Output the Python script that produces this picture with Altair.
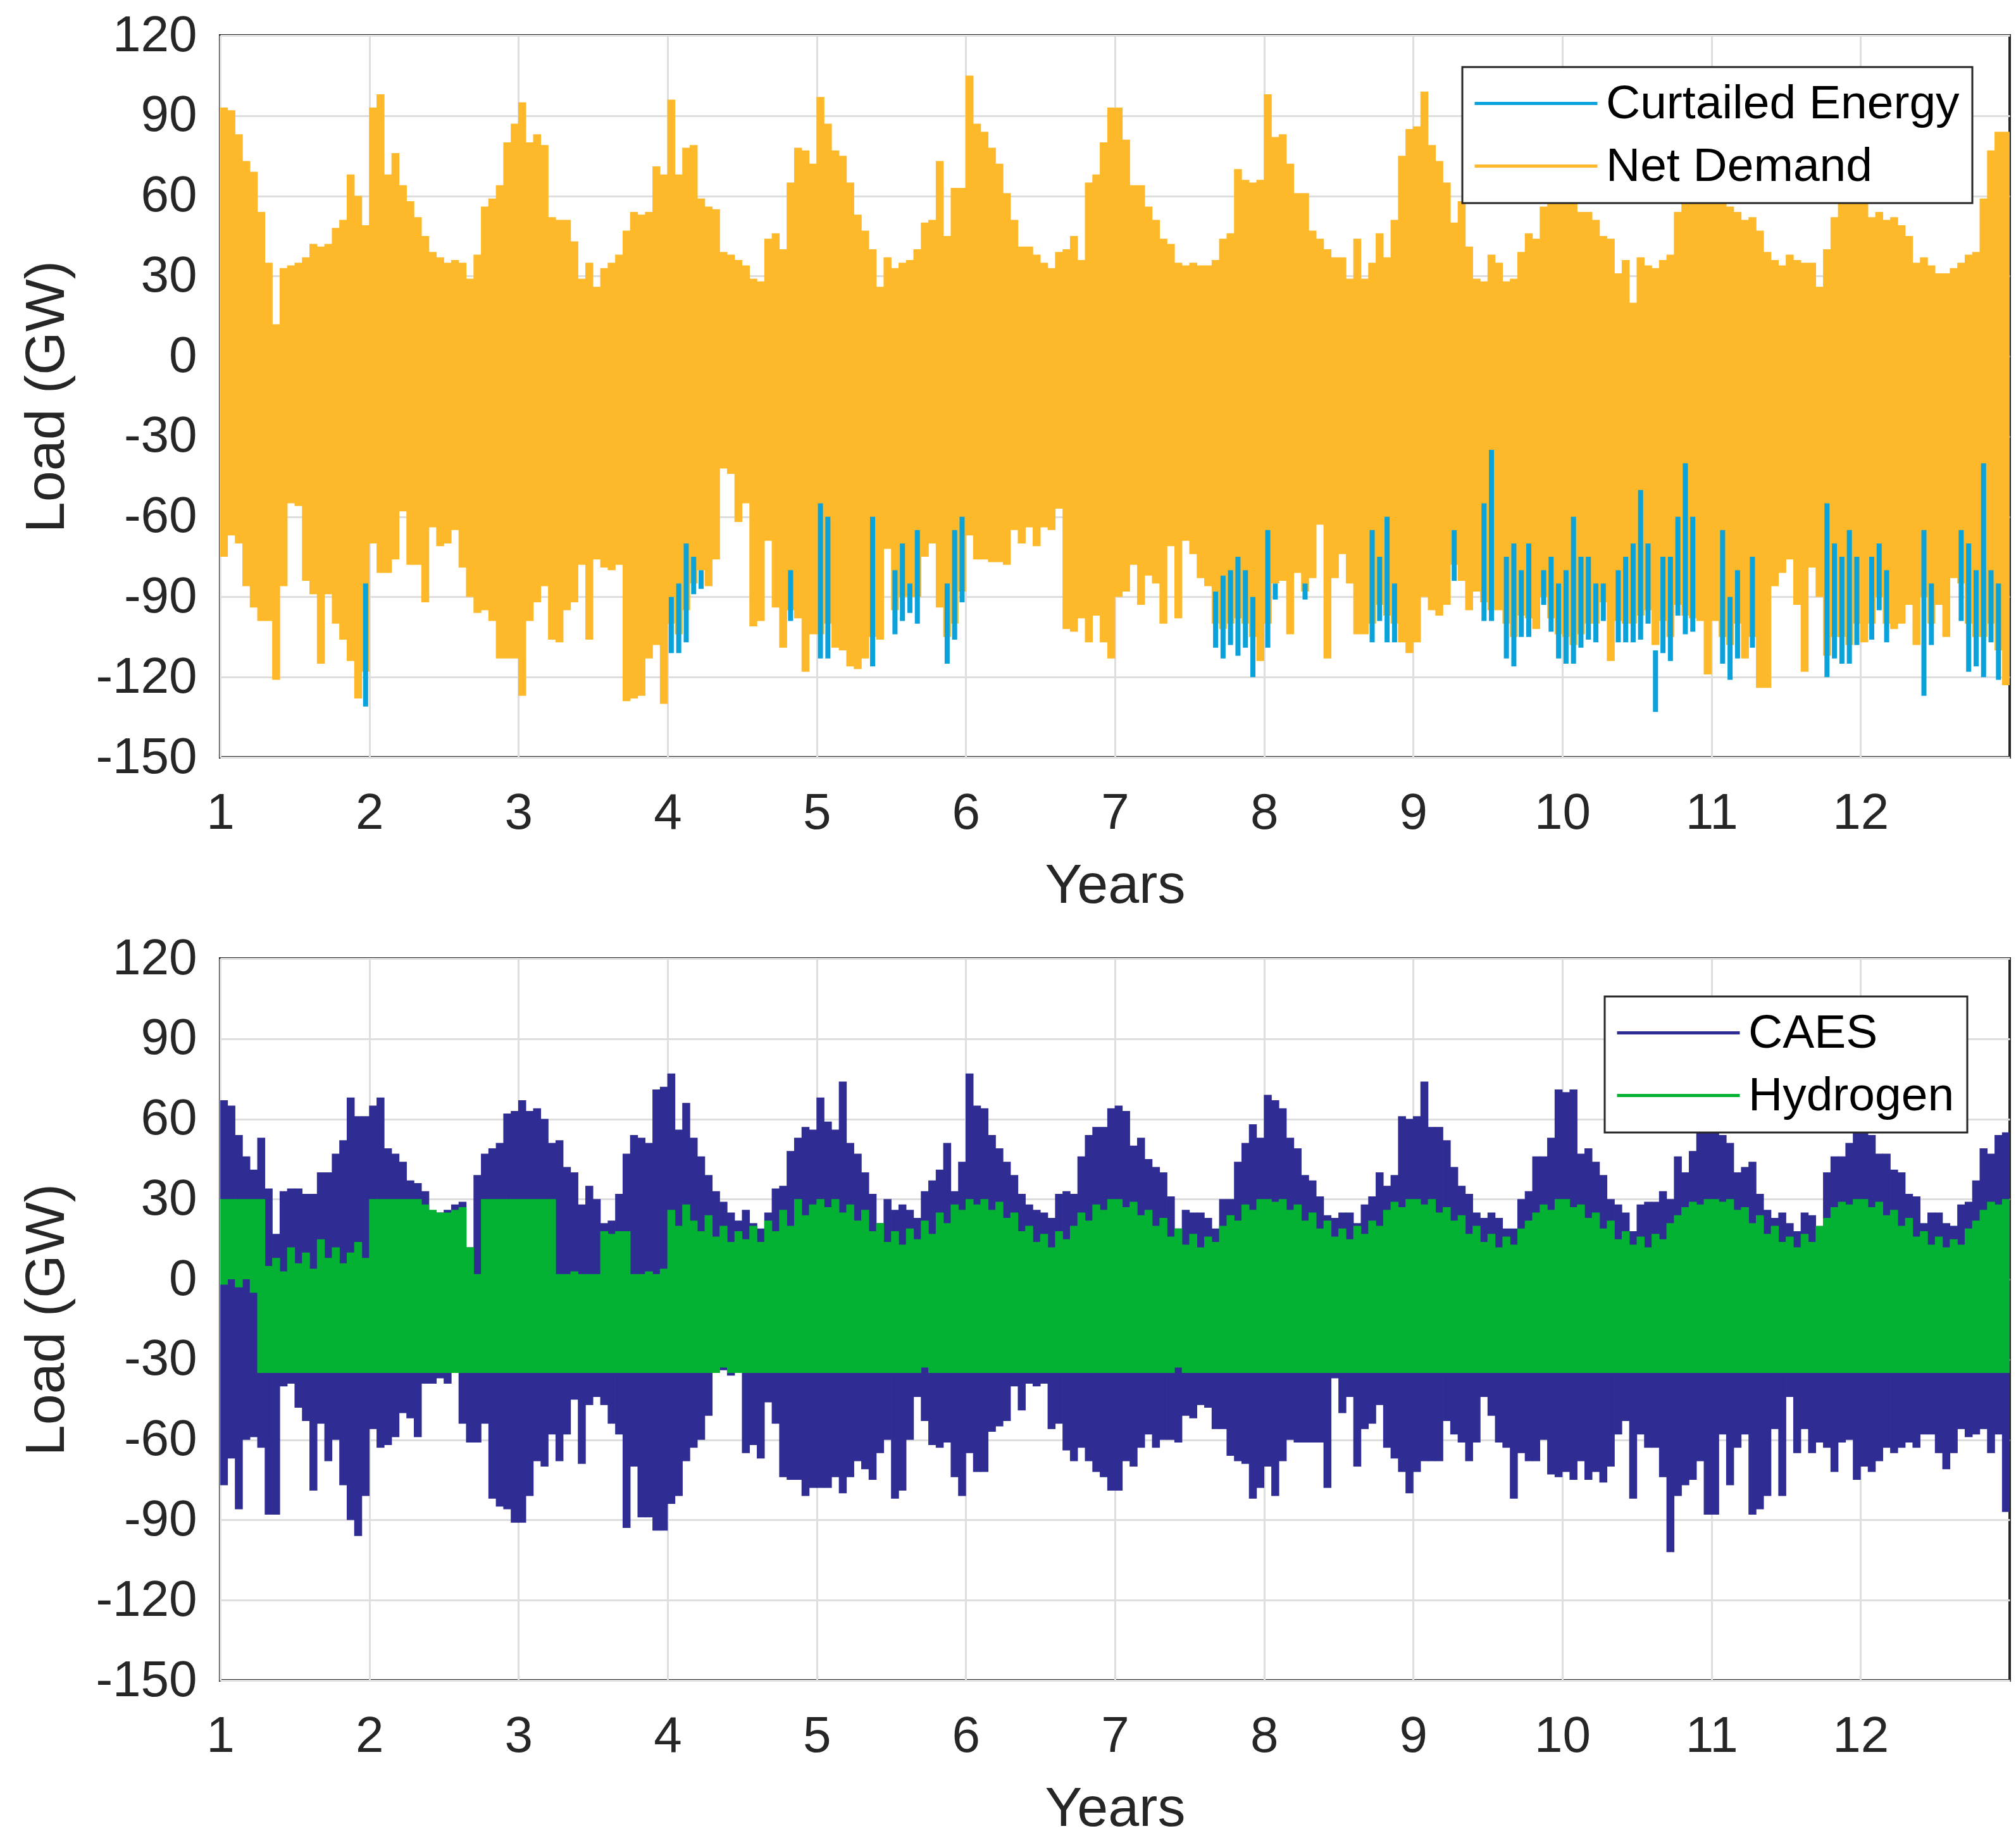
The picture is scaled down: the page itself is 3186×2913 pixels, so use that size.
import altair as alt
import pandas as pd

# ---------------- data ----------------
YEARS = list(range(1, 13))      # each year is split into 20 bins of 0.05 year
STEP = 0.05

# Net Demand: upper / lower envelope per 0.05-year bin (GW)
ND_HI = [
    [93, 92, 83, 73, 69, 54, 35, 12, 33, 34, 35, 37, 42, 41, 42, 48, 51, 68, 60, 49],
    [93, 98, 68, 76, 64, 58, 52, 45, 39, 37, 35, 36, 35, 29, 38, 56, 59, 64, 80, 87],
    [95, 80, 83, 79, 52, 51, 51, 43, 29, 35, 26, 33, 35, 38, 47, 54, 53, 54, 71, 68],
    [96, 68, 78, 79, 59, 56, 55, 39, 38, 36, 34, 29, 28, 44, 46, 40, 65, 78, 77, 72],
    [97, 87, 77, 75, 65, 53, 47, 40, 26, 37, 33, 35, 36, 40, 50, 51, 73, 45, 63, 63],
    [105, 87, 84, 78, 72, 61, 51, 41, 41, 38, 35, 33, 39, 40, 45, 36, 65, 68, 80, 93],
    [93, 81, 64, 64, 56, 51, 44, 42, 35, 34, 35, 34, 34, 36, 44, 46, 70, 66, 65, 66],
    [98, 82, 83, 72, 61, 61, 47, 44, 40, 37, 37, 29, 44, 29, 35, 46, 37, 51, 75, 85],
    [86, 99, 79, 73, 65, 50, 58, 41, 29, 28, 38, 35, 28, 29, 39, 46, 44, 56, 65, 65],
    [62, 65, 54, 54, 51, 45, 44, 31, 36, 20, 37, 34, 33, 36, 38, 54, 58, 60, 62, 60],
    [62, 58, 56, 54, 51, 52, 47, 39, 36, 34, 38, 36, 35, 35, 26, 40, 52, 58, 62, 58],
    [60, 52, 54, 51, 52, 49, 45, 35, 37, 34, 31, 31, 33, 35, 38, 39, 59, 77, 84, 84],
]
ND_LO = [
    [-75, -67, -70, -86, -94, -99, -99, -121, -86, -55, -56, -84, -89, -115, -89, -100, -106, -114, -128, -118],
    [-70, -81, -81, -76, -58, -78, -78, -92, -64, -71, -70, -65, -79, -90, -96, -95, -99, -113, -113, -113],
    [-127, -99, -92, -86, -106, -107, -95, -92, -78, -106, -76, -79, -80, -78, -129, -128, -127, -113, -108, -130],
    [-100, -104, -95, -85, -80, -86, -76, -42, -44, -62, -55, -101, -99, -69, -94, -109, -95, -98, -118, -104],
    [-104, -100, -109, -110, -116, -117, -113, -105, -106, -72, -95, -90, -90, -90, -75, -70, -94, -105, -100, -88],
    [-67, -76, -76, -77, -77, -78, -65, -70, -64, -71, -64, -65, -57, -102, -103, -98, -107, -97, -107, -113],
    [-90, -88, -78, -93, -82, -85, -100, -71, -98, -69, -74, -83, -86, -100, -102, -100, -98, -100, -105, -114],
    [-100, -85, -84, -104, -81, -88, -83, -63, -113, -83, -74, -85, -104, -104, -100, -93, -97, -100, -107, -111],
    [-107, -90, -95, -97, -93, -78, -84, -95, -88, -92, -95, -95, -100, -105, -97, -98, -102, -90, -98, -104],
    [-105, -108, -104, -100, -100, -92, -114, -99, -100, -100, -97, -95, -108, -99, -105, -93, -97, -98, -99, -119],
    [-99, -105, -108, -100, -113, -105, -124, -124, -86, -81, -76, -93, -118, -79, -90, -112, -105, -105, -108, -100],
    [-107, -100, -90, -100, -102, -100, -93, -108, -90, -100, -93, -105, -83, -85, -100, -105, -105, -100, -110, -123],
]

# Curtailed Energy: bins (start year) where it shows, with its visible top and bottom (GW)
CE_START = [1.95,
            4.00, 4.05, 4.10, 4.15, 4.20, 4.80,
            5.00, 5.05, 5.35, 5.50, 5.55, 5.60, 5.65, 5.85, 5.90, 5.95,
            7.65, 7.70, 7.75, 7.80, 7.85, 7.90,
            8.00, 8.05, 8.25, 8.70, 8.75, 8.80, 8.85,
            9.25, 9.45, 9.50, 9.60, 9.65, 9.70, 9.75, 9.85, 9.90, 9.95,
            10.00, 10.05, 10.10, 10.15, 10.20, 10.25, 10.35, 10.40, 10.45, 10.50,
            10.55, 10.60, 10.65, 10.70, 10.75, 10.80, 10.85,
            11.05, 11.10, 11.15, 11.25, 11.75, 11.80, 11.85, 11.90, 11.95,
            12.05, 12.10, 12.15, 12.40, 12.45, 12.65, 12.70, 12.75, 12.80, 12.85, 12.90]
CE_LO = [-131,
         -111, -111, -107, -89, -87, -99,
         -113, -113, -116, -104, -99, -96, -100, -115, -106, -92,
         -109, -113, -108, -112, -109, -120,
         -109, -91, -91, -107, -99, -107, -107,
         -84, -99, -99, -113, -116, -105, -105, -93, -103, -113,
         -115, -115, -109, -106, -107, -99, -107, -107, -107, -106,
         -100, -133, -111, -114, -97, -104, -103,
         -115, -121, -113, -109, -120, -113, -115, -115, -108,
         -106, -95, -107, -127, -108, -99, -118, -116, -120, -107, -121]
CE_HI = [-85,
         -90, -85, -70, -75, -80, -80,
         -55, -60, -60, -80, -70, -85, -65, -85, -65, -60,
         -88, -82, -80, -75, -80, -90,
         -65, -85, -85, -65, -75, -60, -85,
         -65, -55, -35, -75, -70, -80, -70, -80, -75, -85,
         -80, -60, -75, -75, -85, -85, -80, -75, -70, -50,
         -70, -110, -75, -75, -60, -40, -60,
         -65, -90, -80, -75, -55, -70, -75, -65, -75,
         -75, -70, -80, -65, -85, -65, -70, -80, -40, -80, -85]

# CAES: upper / lower envelope per 0.05-year bin (GW)
CAES_HI = [
    [67, 65, 54, 46, 41, 53, 34, 17, 33, 34, 34, 32, 32, 40, 40, 47, 52, 68, 61, 61],
    [65, 68, 49, 47, 44, 37, 36, 33, 25, 25, 26, 28, 29, 12, 39, 47, 49, 51, 62, 63],
    [67, 63, 64, 60, 51, 52, 42, 40, 28, 35, 30, 21, 22, 32, 47, 54, 53, 51, 71, 72],
    [77, 56, 66, 53, 46, 39, 33, 29, 25, 22, 26, 21, 19, 25, 34, 35, 48, 53, 57, 56],
    [68, 59, 56, 74, 51, 47, 40, 32, 21, 30, 26, 28, 26, 23, 33, 37, 41, 51, 33, 44],
    [77, 65, 64, 54, 49, 44, 39, 32, 28, 26, 25, 23, 32, 33, 32, 46, 54, 57, 57, 64],
    [65, 63, 50, 53, 45, 42, 40, 31, 19, 26, 25, 25, 23, 19, 30, 30, 44, 51, 58, 53],
    [69, 67, 64, 53, 49, 39, 37, 31, 24, 23, 25, 25, 21, 28, 31, 40, 35, 39, 61, 60],
    [61, 74, 57, 57, 52, 42, 35, 32, 25, 23, 25, 23, 19, 19, 30, 33, 46, 46, 53, 71],
    [70, 71, 47, 49, 44, 39, 30, 28, 25, 18, 28, 29, 29, 33, 30, 46, 40, 48, 56, 62],
    [60, 54, 51, 40, 42, 44, 32, 26, 23, 25, 21, 18, 25, 24, 16, 40, 46, 46, 51, 60],
    [58, 54, 47, 47, 41, 40, 32, 31, 21, 25, 25, 21, 20, 28, 29, 37, 49, 47, 54, 55],
]
CAES_LO = [
    [-77, -67, -86, -60, -59, -63, -88, -88, -40, -39, -48, -53, -79, -54, -68, -60, -77, -90, -96, -81],
    [-56, -63, -62, -59, -50, -52, -59, -39, -39, -37, -39, -35, -54, -61, -61, -54, -82, -85, -86, -91],
    [-91, -81, -68, -70, -58, -68, -58, -45, -69, -47, -44, -47, -54, -58, -93, -70, -89, -89, -94, -94],
    [-84, -81, -68, -63, -60, -51, -33, -34, -36, -35, -65, -62, -67, -46, -54, -74, -75, -75, -81, -78],
    [-78, -78, -74, -80, -74, -68, -71, -75, -65, -60, -82, -79, -60, -44, -53, -62, -63, -61, -74, -81],
    [-65, -72, -72, -57, -55, -53, -40, -49, -39, -40, -39, -56, -54, -64, -68, -63, -68, -72, -74, -79],
    [-79, -68, -70, -63, -58, -63, -60, -60, -61, -51, -52, -47, -48, -56, -56, -66, -68, -69, -82, -78],
    [-70, -81, -68, -60, -61, -61, -61, -61, -78, -37, -50, -44, -70, -56, -54, -47, -63, -67, -72, -80],
    [-72, -68, -68, -68, -53, -58, -61, -68, -61, -44, -51, -61, -63, -82, -65, -68, -68, -60, -73, -74],
    [-72, -75, -68, -75, -72, -76, -70, -58, -53, -82, -58, -63, -63, -74, -102, -81, -77, -75, -68, -88],
    [-88, -58, -77, -63, -58, -88, -86, -81, -56, -81, -44, -65, -56, -65, -61, -63, -72, -61, -60, -75],
    [-70, -72, -68, -63, -65, -63, -61, -63, -58, -58, -65, -71, -65, -56, -59, -58, -56, -65, -58, -87],
]

# Hydrogen: upper / lower envelope per 0.05-year bin (GW)
H2_HI = [
    [30, 30, 30, 30, 30, 30, 5, 8, 3, 12, 6, 10, 4, 15, 8, 12, 6, 10, 14, 8],
    [30, 30, 30, 30, 30, 30, 30, 28, 26, 25, 25, 26, 27, 12, 2, 30, 30, 30, 30, 30],
    [30, 30, 30, 30, 30, 2, 2, 3, 2, 2, 2, 18, 17, 18, 18, 2, 2, 3, 2, 4],
    [26, 20, 28, 22, 18, 24, 16, 20, 14, 18, 15, 20, 14, 22, 18, 26, 20, 30, 24, 28],
    [30, 27, 30, 25, 28, 22, 26, 18, 21, 14, 18, 13, 19, 15, 22, 17, 25, 21, 28, 26],
    [30, 28, 30, 26, 29, 23, 25, 18, 20, 14, 17, 12, 18, 15, 20, 25, 22, 28, 26, 30],
    [30, 27, 29, 24, 26, 20, 23, 16, 19, 13, 17, 12, 16, 14, 20, 24, 22, 28, 26, 30],
    [30, 29, 30, 26, 28, 22, 25, 19, 22, 16, 19, 15, 20, 17, 22, 20, 26, 29, 27, 30],
    [30, 28, 30, 25, 27, 22, 24, 17, 20, 14, 17, 12, 16, 13, 19, 22, 25, 28, 26, 30],
    [30, 27, 28, 23, 25, 19, 22, 15, 18, 13, 16, 12, 17, 15, 21, 24, 27, 29, 28, 30],
    [30, 29, 30, 26, 27, 21, 24, 17, 20, 14, 16, 12, 17, 14, 20, 23, 27, 29, 28, 30],
    [30, 27, 29, 24, 26, 20, 23, 16, 18, 13, 16, 12, 15, 13, 19, 22, 26, 29, 28, 30],
]
H2_LO = [
    [-2, 0, -3, 0, -5, -35, -35, -35, -35, -35, -35, -35, -35, -35, -35, -35, -35, -35, -35, -35],
    [-35, -35, -35, -35, -35, -35, -35, -35, -35, -35, -35, -35, -35, -35, -35, -35, -35, -35, -35, -35],
    [-35, -35, -35, -35, -35, -35, -35, -35, -35, -35, -35, -35, -35, -35, -35, -35, -35, -35, -35, -35],
    [-35, -35, -35, -35, -35, -35, -35, -33, -35, -35, -35, -35, -35, -35, -35, -35, -35, -35, -35, -35],
    [-35, -35, -35, -35, -35, -35, -35, -35, -35, -35, -35, -35, -35, -35, -33, -35, -35, -35, -35, -35],
    [-35, -35, -35, -35, -35, -35, -35, -35, -35, -35, -35, -35, -35, -35, -35, -35, -35, -35, -35, -35],
    [-35, -35, -35, -35, -35, -35, -35, -35, -33, -35, -35, -35, -35, -35, -35, -35, -35, -35, -35, -35],
    [-35, -35, -35, -35, -35, -35, -35, -35, -35, -35, -35, -35, -35, -35, -35, -35, -35, -35, -35, -35],
    [-35, -35, -35, -35, -35, -35, -35, -35, -35, -35, -35, -35, -35, -35, -35, -35, -35, -35, -35, -35],
    [-35, -35, -35, -35, -35, -35, -35, -35, -35, -35, -35, -35, -35, -35, -35, -35, -35, -35, -35, -35],
    [-35, -35, -35, -35, -35, -35, -35, -35, -35, -35, -35, -35, -35, -35, -35, -35, -35, -35, -35, -35],
    [-35, -35, -35, -35, -35, -35, -35, -35, -35, -35, -35, -35, -35, -35, -35, -35, -35, -35, -35, -35],
]

X_TICKS = list(range(1, 13))
Y_TICKS = [-150, -120, -90, -60, -30, 0, 30, 60, 90, 120]

# ---------------- tables ----------------
T = [round(y + STEP * (i + 0.5), 4) for y in YEARS for i in range(20)]


def flat(rows):
    return [v for r in rows for v in r]


nd_df = pd.DataFrame({"t": T, "lo": flat(ND_LO), "hi": flat(ND_HI), "series": "Net Demand"})
ce_df = pd.DataFrame({"t": [round(s + STEP / 2, 4) for s in CE_START], "lo": CE_LO,
                      "hi": CE_HI, "series": "Curtailed Energy"})
caes_df = pd.DataFrame({"t": T, "lo": flat(CAES_LO), "hi": flat(CAES_HI), "series": "CAES"})
h2_df = pd.DataFrame({"t": T, "lo": flat(H2_LO), "hi": flat(H2_HI), "series": "Hydrogen"})

# ---------------- styling ----------------
FONT = "Liberation Sans"
TXT = "#262626"
W, H = 2828, 1141

xscale = alt.Scale(domain=[1, 13], nice=False, zero=False)
yscale = alt.Scale(domain=[-150, 120], nice=False, zero=False)

xaxis = alt.Axis(values=X_TICKS, title="Years", labelFontSize=80, titleFontSize=88,
                 labelFont=FONT, titleFont=FONT, labelColor=TXT, titleColor=TXT,
                 titleFontWeight="normal", grid=True, gridColor="#DEDEDE", gridWidth=3,
                 ticks=False, tickSize=0, domain=False, labelPadding=49, titlePadding=31,
                 labelFlush=False, labelOverlap=False, labelLimit=1000,
                 labelExpr="toString(datum.value)")
yaxis = alt.Axis(values=Y_TICKS, title="Load (GW)", labelFontSize=80, titleFontSize=88,
                 labelFont=FONT, titleFont=FONT, labelColor=TXT, titleColor=TXT,
                 titleFontWeight="normal", grid=True, gridColor="#DEDEDE", gridWidth=3,
                 ticks=False, tickSize=0, domain=False, labelPadding=37, titlePadding=32,
                 labelFlush=False, labelOverlap=False, labelLimit=1000,
                 labelExpr="toString(datum.value)")


def legend(x, y):
    return alt.Legend(title=None, orient="none", legendX=x, legendY=y,
                      symbolType="M-4,0L4,0", symbolSize=2352, symbolStrokeWidth=5,
                      symbolOffset=59, labelOffset=73, labelFontSize=75, labelFont=FONT,
                      labelColor="#000000", labelLimit=2000, fillColor="#FFFFFF",
                      strokeColor="#262626", padding=20, rowPadding=23)


def panel(back_df, front_df, domain, colors, back_w, front_w, lx, ly):
    cscale = alt.Scale(domain=domain, range=colors)
    back = alt.Chart(back_df).mark_rule(strokeWidth=back_w, clip=True).encode(
        x=alt.X("t:Q", scale=xscale, axis=xaxis),
        y=alt.Y("lo:Q", scale=yscale, axis=yaxis),
        y2="hi:Q",
        color=alt.Color("series:N", scale=cscale, legend=legend(lx, ly)),
    )
    front = alt.Chart(front_df).mark_rule(strokeWidth=front_w, clip=True).encode(
        x=alt.X("t:Q", scale=xscale, axis=xaxis),
        y=alt.Y("lo:Q", scale=yscale, axis=yaxis),
        y2="hi:Q",
        color=alt.Color("series:N", scale=cscale, legend=legend(lx, ly)),
    )
    return alt.layer(back, front).properties(width=W, height=H)


# top: Net Demand behind, Curtailed Energy spikes drawn over its lower part
top = panel(nd_df, ce_df, ["Curtailed Energy", "Net Demand"], ["#0AA2DB", "#FDB92A"],
            12.5, 8, 1963, 50)
bottom = panel(caes_df, h2_df, ["CAES", "Hydrogen"], ["#2F2C93", "#03B232"],
               12.5, 12.5, 2188, 60)

chart = (
    alt.vconcat(top, bottom, spacing=27)
    .resolve_scale(color="independent")
    .resolve_legend(color="independent")
    .properties(padding={"left": 20, "top": 6, "right": 0, "bottom": 0}, background="#FFFFFF")
    .configure_view(stroke="#262626", strokeWidth=4)
    .configure_legend(strokeWidth=3)
)

chart.save("out.html", embed_options={"renderer": "svg", "actions": False})
